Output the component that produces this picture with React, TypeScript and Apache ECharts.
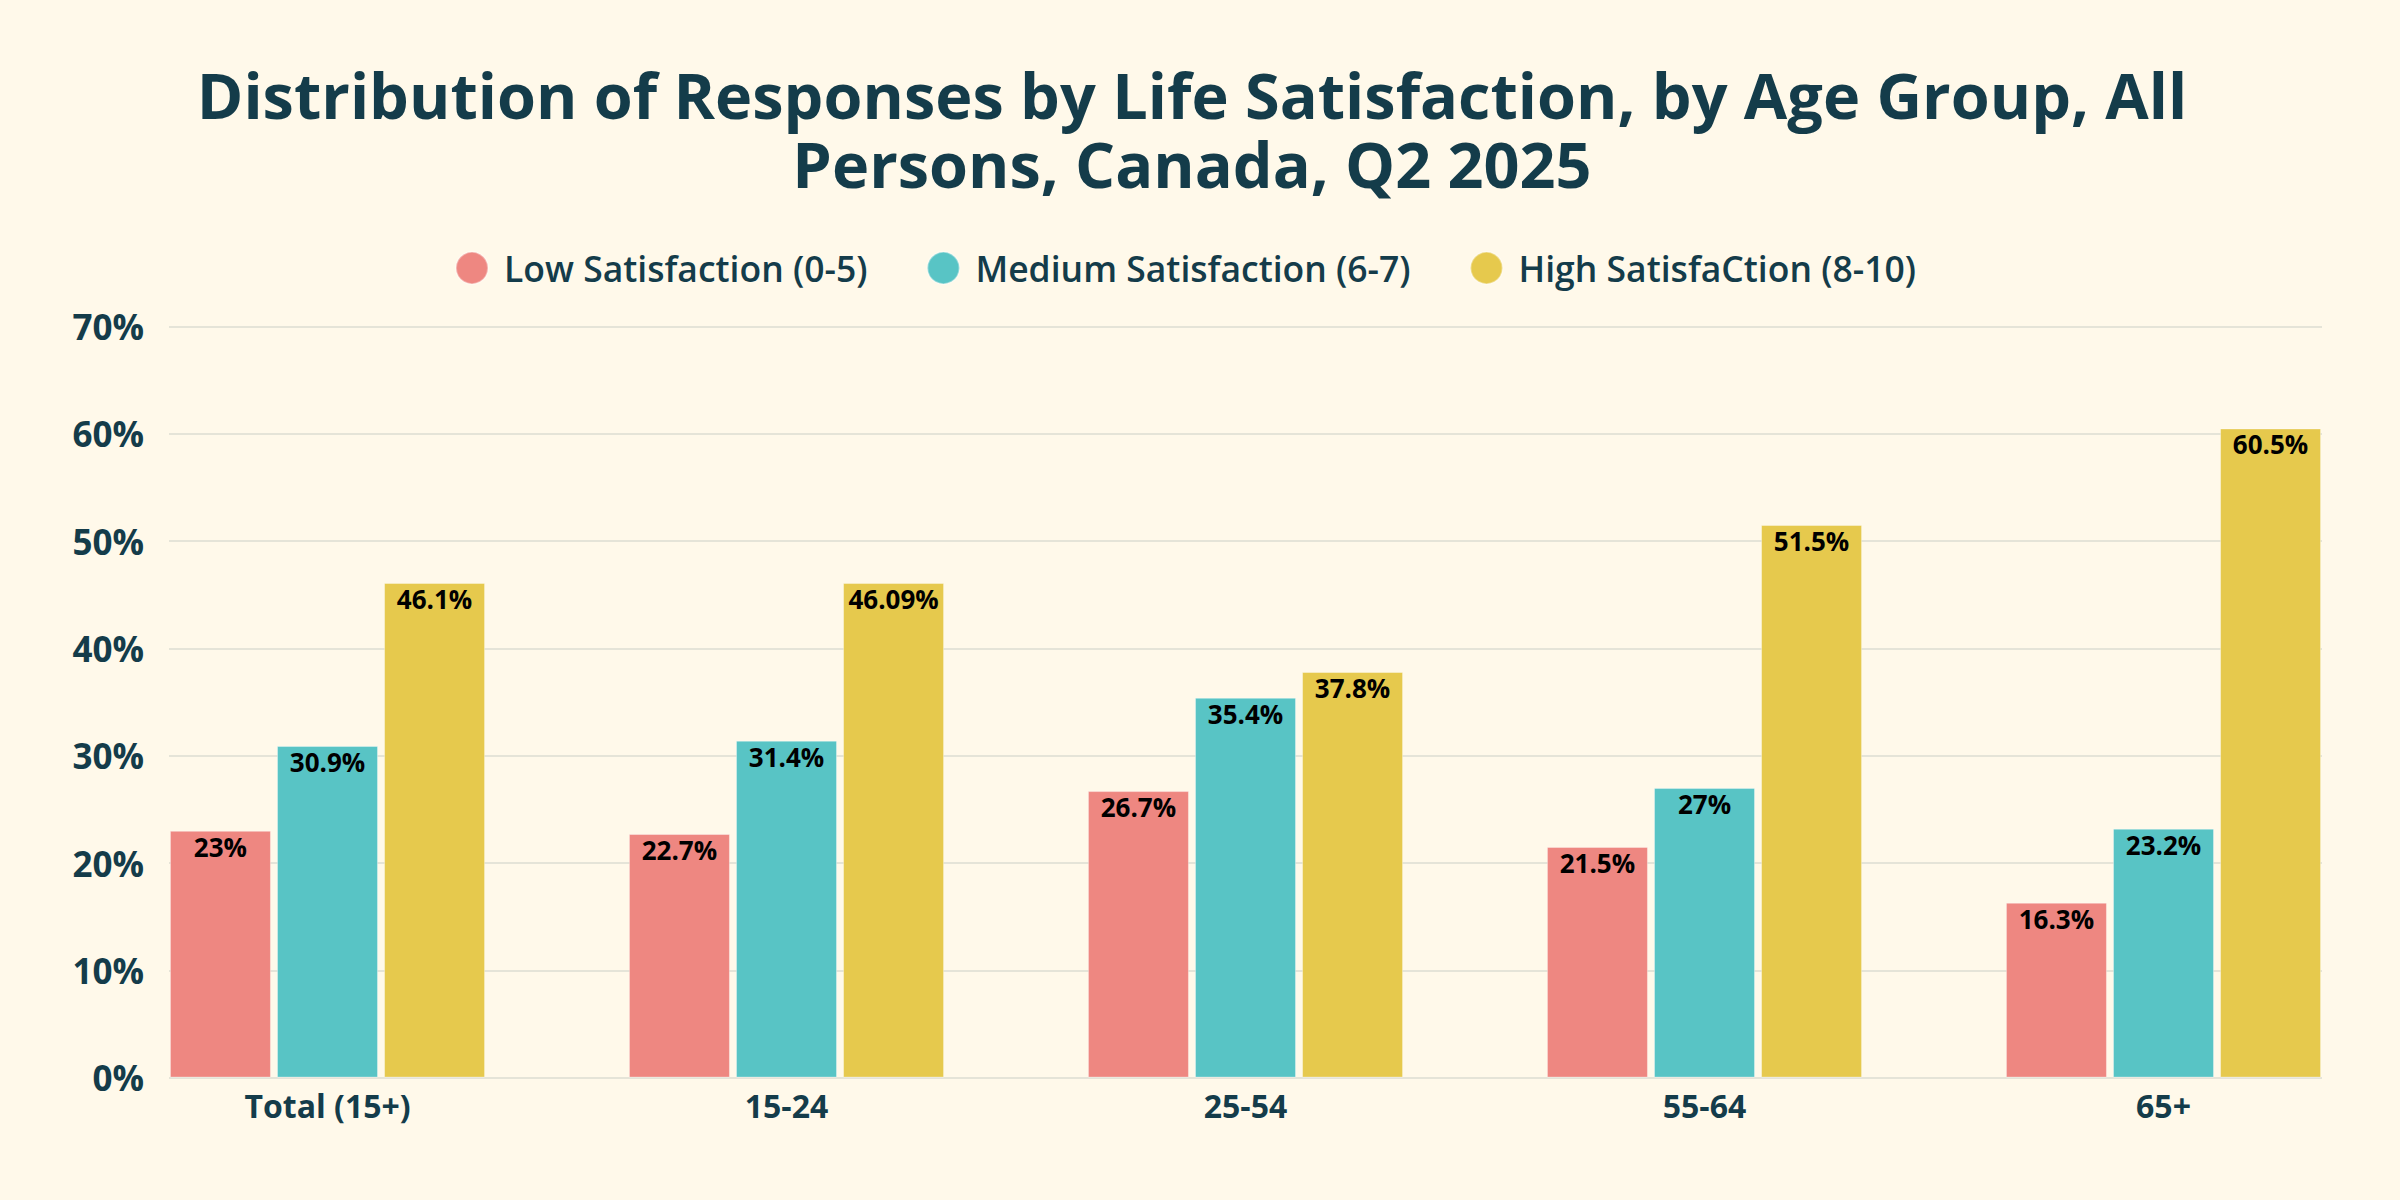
import React, { useEffect, useRef } from "react";
import * as echarts from "echarts";

const categories = ["Total (15+)", "15-24", "25-54", "55-64", "65+"];
const seriesNames = ["Low Satisfaction (0-5)", "Medium Satisfaction (6-7)", "High SatisfaCtion (8-10)"];
const lowValues = [23, 22.7, 26.7, 21.5, 16.3];
const mediumValues = [30.9, 31.4, 35.4, 27, 23.2];
const highValues = [46.1, 46.09, 37.8, 51.5, 60.5];
const titleLines = [
  "Distribution of Responses by Life Satisfaction, by Age Group, All",
  "Persons, Canada, Q2 2025",
];
const colors = ["#EE8781", "#58C4C5", "#E6C94D"];
const yMin = 0;
const yMax = 70;
const yInterval = 10;

const FONT = "'Open Sans', 'Noto Sans', sans-serif";
const DARK = "#143C4A";

export default function App() {
  const ref = useRef<HTMLDivElement>(null);
  useEffect(() => {
    if (!ref.current) return;
    const chart = echarts.init(ref.current, undefined, { renderer: "svg" });
    const barSeries = [lowValues, mediumValues, highValues].map((vals, i) => ({
      name: seriesNames[i],
      type: "bar",
      xAxisIndex: 1,
      yAxisIndex: 1,
      data: vals,
      barWidth: 101,
      barGap: "6%",
      itemStyle: { color: colors[i], borderColor: "rgba(255,255,255,0.35)", borderWidth: 1 },
      label: {
        show: true,
        position: "insideTop",
        distance: 3,
        formatter: (p: any) => `${p.value}%`,
        color: "#000000",
        fontFamily: FONT,
        fontWeight: "bold",
        fontSize: 26,
        lineHeight: 26,
      },
    }));
    const titleTops = [63, 132];
    chart.setOption({
      animation: false,
      backgroundColor: "#FFF9EA",
      title: titleLines.map((t, i) => ({
        text: t,
        left: 1192,
        top: titleTops[i],
        padding: 0,
        textAlign: "center",
        textStyle: {
          fontFamily: FONT,
          fontWeight: "bold",
          fontSize: 63,
          lineHeight: 63,
          color: DARK,
        },
      })),
      legend: {
        data: seriesNames,
        left: 455,
        top: 250,
        padding: 0,
        icon: "circle",
        itemWidth: 32,
        itemHeight: 32,
        itemGap: 59,
        textStyle: {
          fontFamily: FONT,
          fontWeight: 600,
          fontSize: 35.5,
          lineHeight: 32,
          color: DARK,
          padding: [0, 0, 0, 11],
        },
      },
      grid: [
        { left: 169, right: 78, top: 326.5, bottom: 122.4 },
        { left: 98, right: 7, top: 326.5, bottom: 122.4 },
      ],
      xAxis: [
        { type: "value", gridIndex: 0, show: false, min: 0, max: 1 },
        {
          type: "category",
          gridIndex: 1,
          data: categories,
          axisLine: { show: false },
          axisTick: { show: false },
          axisLabel: {
            margin: 12,
            fontFamily: FONT,
            fontWeight: "bold",
            fontSize: 32,
            color: DARK,
          },
        },
      ],
      yAxis: [
        {
          type: "value",
          gridIndex: 0,
          min: yMin,
          max: yMax,
          interval: yInterval,
          axisLine: { show: false },
          axisTick: { show: false },
          axisLabel: {
            margin: 25,
            formatter: "{value}%",
            fontFamily: FONT,
            fontWeight: "bold",
            fontSize: 35,
            color: DARK,
          },
          splitLine: { lineStyle: { color: "#DCDCD2", width: 1.5 } },
        },
        {
          type: "value",
          gridIndex: 1,
          min: yMin,
          max: yMax,
          interval: yInterval,
          show: false,
          splitLine: { show: false },
        },
      ],
      series: barSeries,
    });
    return () => chart.dispose();
  }, []);
  return (
    <div
      ref={ref}
      style={{ position: "absolute", left: 0, top: 0, width: 2400, height: 1200 }}
    />
  );
}
